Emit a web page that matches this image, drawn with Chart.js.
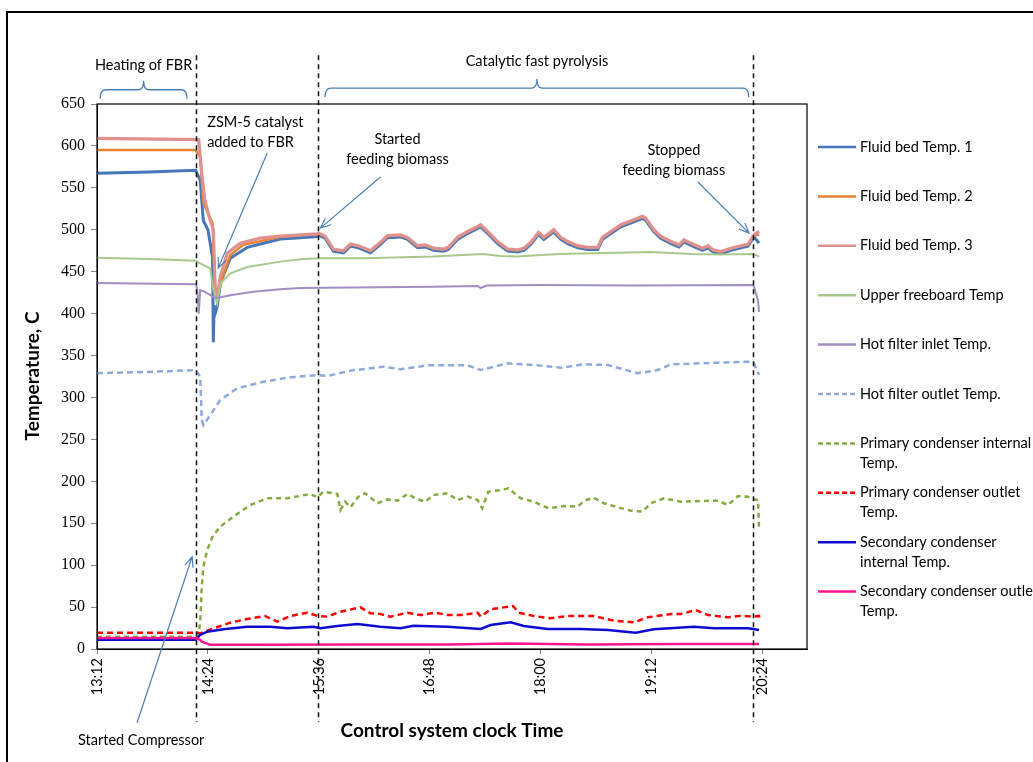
<!DOCTYPE html>
<html>
<head>
<meta charset="utf-8">
<title>Catalytic fast pyrolysis run - temperatures</title>
<script src="https://cdn.jsdelivr.net/npm/chart.js@4.4.1/dist/chart.umd.min.js"></script>
<style>
    html, body { margin: 0; padding: 0; background: #fff; }
    #wrap { width: 1033px; height: 762px; }
</style>
</head>
<body>
<div id="wrap"><canvas id="tempChart" width="1033" height="762"></canvas></div>
<script>
// x axis ticks (control system clock)
const xTickStart = '13:12';
const xTickStep = 72;          // minutes between tick labels
const xAxisEnd = '20:52:48';
const yTicks = [0, 650, 50];   // min, max, step

// series: [clock time, temperature C]
const fluidBed1 = [
    ['13:12', 567.5], ['13:46', 569], ['14:16', 571], ['14:19', 559], ['14:21', 511], ['14:24', 500],
    ['14:27', 467], ['14:27:30', 366], ['14:28', 410], ['14:28:40', 400], ['14:30', 408], ['14:32', 436],
    ['14:38:30', 466], ['14:49:30', 479], ['15:11', 489], ['15:24', 490.5], ['15:35', 492],
    ['15:35:40', 493.5], ['15:40', 490], ['15:45:24', 474.5], ['15:52', 472.5], ['15:56:30', 480.5],
    ['16:01:40', 478.5], ['16:09:30', 472.5], ['16:16', 482.5], ['16:20:30', 490.5], ['16:29', 491.5],
    ['16:33:30', 488.5], ['16:40', 478.5], ['16:45', 479.5], ['16:50:24', 475.5], ['16:57', 474.5],
    ['17:00', 476.5], ['17:06', 488.5], ['17:12:30', 495.5], ['17:19', 501.5], ['17:21', 503.5],
    ['17:25:30', 495.5], ['17:32', 483.5], ['17:38:30', 474.5], ['17:45', 473.5], ['17:49', 475.5],
    ['17:53:30', 482.5], ['17:58:40', 494.5], ['18:02', 488.5], ['18:08:24', 497.5], ['18:13', 488.5],
    ['18:17:30', 483.5], ['18:24', 478.5], ['18:30:30', 476.5], ['18:37', 476.5], ['18:40', 488.5],
    ['18:45:30', 495.5], ['18:52', 503.5], ['19:00:24', 509.5], ['19:06', 513.5], ['19:08', 511.5],
    ['19:13:24', 497.5], ['19:18', 489.5], ['19:24:30', 483.5], ['19:29:40', 479.5], ['19:33', 485.5],
    ['19:37:30', 481.5], ['19:45', 475.5], ['19:48:30', 478.5], ['19:52', 473.5], ['19:57', 471.5],
    ['20:03:30', 475.5], ['20:10', 478.5], ['20:14:30', 480.5], ['20:18:24', 491.5], ['20:21:40', 484]
];
const fluidBed2 = [
    ['13:12', 595], ['14:16', 595], ['14:19', 587], ['14:21', 532], ['14:24', 520], ['14:27', 508],
    ['14:28:40', 428], ['14:30:40', 424], ['14:33:20', 442], ['14:38:30', 470], ['14:47', 482],
    ['15:11', 491.5], ['15:24', 493.5], ['15:35', 494.5],
    ['15:35:40', 495.5], ['15:40', 492], ['15:45:24', 476.5], ['15:52', 474.5], ['15:56:30', 482.5],
    ['16:01:40', 480.5], ['16:09:30', 474.5], ['16:16', 484.5], ['16:20:30', 492.5], ['16:29', 493.5],
    ['16:33:30', 490.5], ['16:40', 480.5], ['16:45', 481.5], ['16:50:24', 477.5], ['16:57', 476.5],
    ['17:00', 478.5], ['17:06', 490.5], ['17:12:30', 497.5], ['17:19', 503.5], ['17:21', 505.5],
    ['17:25:30', 497.5], ['17:32', 485.5], ['17:38:30', 476.5], ['17:45', 475.5], ['17:49', 477.5],
    ['17:53:30', 484.5], ['17:58:40', 496.5], ['18:02', 490.5], ['18:08:24', 499.5], ['18:13', 490.5],
    ['18:17:30', 485.5], ['18:24', 480.5], ['18:30:30', 478.5], ['18:37', 478.5], ['18:40', 490.5],
    ['18:45:30', 497.5], ['18:52', 505.5], ['19:00:24', 511.5], ['19:06', 515.5], ['19:08', 513.5],
    ['19:13:24', 499.5], ['19:18', 491.5], ['19:24:30', 485.5], ['19:29:40', 481.5], ['19:33', 487.5],
    ['19:37:30', 483.5], ['19:45', 477.5], ['19:48:30', 480.5], ['19:52', 475.5], ['19:57', 473.5],
    ['20:03:30', 477.5], ['20:10', 480.5], ['20:14:30', 482.5], ['20:18:24', 493.5], ['20:21:40', 494]
];
const fluidBed3 = [
    ['13:12', 609], ['14:18', 607.5], ['14:20', 567], ['14:22', 535], ['14:25:30', 511], ['14:27:30', 500],
    ['14:28:40', 432], ['14:30', 420], ['14:32', 444], ['14:36:30', 472], ['14:45', 484], ['14:58', 490],
    ['15:11', 492.5], ['15:24', 494], ['15:35', 495],
    ['15:35:40', 496], ['15:40', 492.5], ['15:45:24', 477], ['15:52', 475], ['15:56:30', 483],
    ['16:01:40', 481], ['16:09:30', 475], ['16:16', 485], ['16:20:30', 493], ['16:29', 494],
    ['16:33:30', 491], ['16:40', 481], ['16:45', 482], ['16:50:24', 478], ['16:57', 477],
    ['17:00', 479], ['17:06', 491], ['17:12:30', 498], ['17:19', 504], ['17:21', 506],
    ['17:25:30', 498], ['17:32', 486], ['17:38:30', 477], ['17:45', 476], ['17:49', 478],
    ['17:53:30', 485], ['17:58:40', 497], ['18:02', 491], ['18:08:24', 500], ['18:13', 491],
    ['18:17:30', 486], ['18:24', 481], ['18:30:30', 479], ['18:37', 479], ['18:40', 491],
    ['18:45:30', 498], ['18:52', 506], ['19:00:24', 512], ['19:06', 516], ['19:08', 514],
    ['19:13:24', 500], ['19:18', 492], ['19:24:30', 486], ['19:29:40', 482], ['19:33', 488],
    ['19:37:30', 484], ['19:45', 478], ['19:48:30', 481], ['19:52', 476], ['19:57', 474],
    ['20:03:30', 478], ['20:10', 481], ['20:14:30', 483], ['20:18:24', 494], ['20:21:40', 498]
];
const upperFreeboard = [
    ['13:12', 466.5], ['13:46', 465], ['14:16', 463], ['14:19', 460], ['14:25:30', 454], ['14:27:30', 428],
    ['14:30', 412], ['14:32', 436], ['14:38:30', 448], ['14:49:30', 455.6], ['15:11', 462], ['15:24', 464.8],
    ['15:35:40', 466], ['16:05', 466], ['16:50', 468], ['17:22', 471], ['17:34', 468.7], ['17:45', 468],
    ['18:00', 470], ['18:13', 471], ['19:11:30', 473.5], ['19:37:30', 471], ['19:57', 470.6],
    ['20:18', 471], ['20:21:40', 468]
];
const hotFilterInlet = [
    ['13:12', 436.5], ['14:16', 435], ['14:17', 430], ['14:18', 400], ['14:19', 428], ['14:22', 426],
    ['14:27:30', 420], ['14:30', 418.6], ['14:38:30', 422], ['14:53:24', 426], ['15:11', 429],
    ['15:24', 430.5], ['16:50', 432], ['17:19', 433], ['17:21', 430.5], ['17:25', 433.5], ['18:00', 434],
    ['19:00', 433.5], ['20:18', 434], ['20:21', 416], ['20:21:40', 402]
];
const hotFilterOutlet = [
    ['13:12', 329], ['13:46', 330.5], ['14:16', 332.7], ['14:19', 324.8], ['14:20', 273], ['14:21', 267],
    ['14:25:30', 279], ['14:32', 297], ['14:43', 311], ['15:00', 318.8], ['15:17:30', 324], ['15:35', 326.8],
    ['15:41:30', 325.6], ['15:56:30', 332], ['16:09:30', 334.8], ['16:18', 336.7], ['16:29', 333.6],
    ['16:46:30', 338.3], ['17:12:30', 338.3], ['17:21', 332.7], ['17:38:30', 340.7], ['17:55:24', 338.7],
    ['18:13', 335.5], ['18:28', 339.5], ['18:43:30', 338.7], ['19:03', 328.8], ['19:16', 332.7],
    ['19:24:30', 339.5], ['19:55', 341.5], ['20:14:30', 342.7], ['20:18:24', 340.7], ['20:21:40', 326.8]
];
const primaryCondInternal = [
    ['13:12', 14.5], ['14:16', 14.5], ['14:18', 16.7], ['14:19', 34.6], ['14:20', 74], ['14:21', 98],
    ['14:23:30', 118], ['14:27', 134], ['14:32', 146], ['14:40:24', 157.8], ['14:51:30', 171.7],
    ['15:02:30', 179.7], ['15:15:30', 179.7], ['15:30:30', 184.9], ['15:35', 180.9], ['15:39', 187.6],
    ['15:48', 184.9], ['15:50', 165.8], ['15:53', 175.7], ['15:56:30', 169], ['16:01:40', 181.7],
    ['16:06', 185.7], ['16:14', 173.8], ['16:20:30', 178.5], ['16:27', 176.9], ['16:33:30', 184.9],
    ['16:40', 178.5], ['16:45', 175.7], ['16:50:24', 183.7], ['16:59:30', 185.7], ['17:06', 177.7],
    ['17:12:30', 181.7], ['17:19', 177.7], ['17:22', 167.8], ['17:26', 187.6], ['17:34', 189.6],
    ['17:39', 191.6], ['17:47', 179.7], ['17:55:24', 175.7], ['18:05', 167.8], ['18:15', 170.5],
    ['18:24', 169.7], ['18:28', 176.9], ['18:34:24', 180.5], ['18:41', 173.8], ['18:50', 169],
    ['18:58:30', 165], ['19:06', 163.8], ['19:11:30', 173.8], ['19:20', 179.7], ['19:31', 175.7],
    ['19:44', 176.5], ['19:55', 176.9], ['20:01:30', 171.7], ['20:08', 182.5], ['20:14:30', 181.7],
    ['20:18', 178.5], ['20:21', 177.7], ['20:21:40', 143.9]
];
const primaryCondOutlet = [
    ['13:12', 19.5], ['14:16', 19.5], ['14:19', 18.7], ['14:27:30', 24.6], ['14:38:30', 31.4],
    ['14:49:30', 35.8], ['15:01', 39.4], ['15:09', 32.6], ['15:17:30', 39.4], ['15:28:30', 43.3],
    ['15:35', 39.4], ['15:41:30', 38.6], ['15:50', 44.5], ['16:03', 49.7], ['16:09:30', 42.5],
    ['16:16', 41.7], ['16:22:30', 38.6], ['16:33:30', 43.3], ['16:42', 40.5], ['16:51:40', 43.3],
    ['16:59:30', 40.5], ['17:08', 40.5], ['17:19', 43.3], ['17:21', 38.6], ['17:27:30', 47.3],
    ['17:42', 51.3], ['17:45:40', 43.3], ['17:55:24', 39.4], ['18:06:30', 36.6], ['18:17:30', 39.4],
    ['18:34:24', 39.4], ['18:47:24', 33.8], ['19:00:24', 31.8], ['19:09:30', 37.8], ['19:24:30', 41.7],
    ['19:31', 41.7], ['19:40:40', 46.5], ['19:48:30', 40.5], ['20:01:30', 37.8], ['20:10', 39.7],
    ['20:18:24', 38.6], ['20:21:40', 39.4], ['20:22', 33.4]
];
const secondaryCondInternal = [
    ['13:12', 11], ['14:16', 11], ['14:19', 16.7], ['14:23:30', 20.7], ['14:34', 23.5], ['14:49:30', 26.6],
    ['15:04:30', 26.6], ['15:15:30', 24.7], ['15:32:24', 26.6], ['15:37', 24.7], ['15:48', 27.4],
    ['16:01', 29.8], ['16:16', 26.6], ['16:29', 24.7], ['16:37:24', 27.8], ['16:59:30', 26.6],
    ['17:21', 23.9], ['17:27:30', 28.6], ['17:40:30', 31.8], ['17:49', 27.4], ['18:04:30', 23.9],
    ['18:26', 23.9], ['18:43:30', 22.7], ['19:01:40', 19.4], ['19:13:24', 23.5], ['19:39:24', 26.6],
    ['19:52:24', 24.7], ['20:14:30', 24.7], ['20:21:40', 22.7]
];
const secondaryCondOutlet = [
    ['13:12', 13], ['14:16', 13], ['14:19', 11], ['14:20', 8.7], ['14:25:30', 5], ['15:00', 5],
    ['16:00', 5.5], ['17:00', 5.5], ['17:40', 6.5], ['18:30', 5.5], ['19:30', 6], ['20:21:40', 6]
];

const seriesLabels = [
    ['Fluid bed Temp. 1'], ['Fluid bed Temp. 2'], ['Fluid bed Temp. 3'], ['Upper freeboard Temp'],
    ['Hot filter inlet Temp.'], ['Hot filter outlet Temp.'], ['Primary condenser internal', 'Temp.'],
    ['Primary condenser outlet', 'Temp.'], ['Secondary condenser', 'internal Temp.'],
    ['Secondary condenser outlet', 'Temp.']
];
const seriesValues = [
    fluidBed1, fluidBed2, fluidBed3, upperFreeboard, hotFilterInlet, hotFilterOutlet,
    primaryCondInternal, primaryCondOutlet, secondaryCondInternal, secondaryCondOutlet
];

// 样式
const seriesColors = ['#4677b8', '#e8822f', '#de918e', '#a9c98c', '#a08fc0', '#8eaadb', '#84ab42', '#ff0000', '#0c0cd0', '#ff168f'];
const seriesDash = [[], [], [], [], [], [6, 4], [5, 4], [6, 4], [], []];
const seriesWidth = [3, 2.5, 3.2, 2, 2, 2.5, 2.5, 2.5, 2.5, 2.5];

// annotations, in clock time / temperature units
const eventLines = ['14:16:20', '15:35:40', '20:18'];
const phases = [
    { text: 'Heating of FBR', from: '13:14', to: '14:10:30', y: 667, textY: 696.5 },
    { text: 'Catalytic fast pyrolysis', from: '15:40', to: '20:15', y: 669, textY: 701 }
];
const callouts = [
    { lines: ['ZSM-5 catalyst', 'added to FBR'], at: ['14:23:30', 628.5], align: 'left', from: ['15:02:30', 591.5], to: ['14:30:40', 454.4] },
    { lines: ['Started', 'feeding biomass'], at: ['16:27', 608.2], align: 'center', from: ['16:16', 562.9], to: ['15:37', 502] },
    { lines: ['Stopped', 'feeding biomass'], at: ['19:26:24', 595], align: 'center', from: ['19:42', 557], to: ['20:15:12', 496] },
    { lines: ['Started Compressor'], at: ['12:59:40', -108.5], align: 'left', from: ['13:38', -88], to: ['14:13:45', 110] }
];

const toMin = (s) => {
    const p = s.split(':').map(Number);
    return p[0] * 60 + p[1] + (p[2] || 0) / 60;
};
const fmtClock = (v) => {
    const h = Math.floor(v / 60);
    const m = Math.round(v - h * 60);
    return h + ':' + String(m).padStart(2, '0');
};

const blue = '#4a7ebb';

// 注释、图例、坐标轴标题
const overlayPlugin = {
    id: 'overlay',
    afterDraw(chart) {
        const ctx = chart.ctx;
        const xs = chart.scales.x, ys = chart.scales.y;
        const px = (t) => xs.getPixelForValue(toMin(t));
        const py = (v) => ys.getPixelForValue(v);
        const area = chart.chartArea;

        ctx.save();
        // plot frame
        ctx.strokeStyle = '#000';
        ctx.lineWidth = 1.2;
        ctx.strokeRect(area.left, area.top, area.right - area.left, area.bottom - area.top);

        // outer frame
        ctx.lineWidth = 2;
        ctx.beginPath();
        ctx.moveTo(7, 770); ctx.lineTo(7, 12); ctx.lineTo(1040, 12);
        ctx.stroke();

        // event lines
        ctx.setLineDash([5, 4]);
        ctx.lineWidth = 1.5;
        ctx.strokeStyle = '#111';
        eventLines.forEach(t => {
            const x = Math.round(px(t)) + 0.5;
            ctx.beginPath();
            ctx.moveTo(x, py(708));
            ctx.lineTo(x, py(-87));
            ctx.stroke();
        });
        ctx.setLineDash([]);

        ctx.font = '14.5px Lato';
        ctx.fillStyle = '#000';
        ctx.textBaseline = 'middle';

        // phase braces
        phases.forEach(ph => {
            const x1 = px(ph.from), x2 = px(ph.to), y = py(ph.y), mid = (x1 + x2) / 2;
            ctx.strokeStyle = blue;
            ctx.lineWidth = 1.3;
            ctx.beginPath();
            ctx.moveTo(x1, y + 9);
            ctx.quadraticCurveTo(x1, y, x1 + 6, y);
            ctx.lineTo(mid - 5, y);
            ctx.quadraticCurveTo(mid, y, mid, y - 9);
            ctx.quadraticCurveTo(mid, y, mid + 5, y);
            ctx.lineTo(x2 - 6, y);
            ctx.quadraticCurveTo(x2, y, x2, y + 9);
            ctx.stroke();
            ctx.textAlign = 'center';
            ctx.fillText(ph.text, mid, py(ph.textY));
        });

        // callouts
        callouts.forEach(c => {
            ctx.textAlign = c.align;
            c.lines.forEach((line, i) => ctx.fillText(line, px(c.at[0]), py(c.at[1]) + i * 20));
            const x1 = px(c.from[0]), y1 = py(c.from[1]), x2 = px(c.to[0]), y2 = py(c.to[1]);
            ctx.strokeStyle = blue;
            ctx.lineWidth = 1.2;
            ctx.beginPath();
            ctx.moveTo(x1, y1);
            ctx.lineTo(x2, y2);
            const a = Math.atan2(y2 - y1, x2 - x1);
            ctx.moveTo(x2 - 11 * Math.cos(a - 0.4), y2 - 11 * Math.sin(a - 0.4));
            ctx.lineTo(x2, y2);
            ctx.lineTo(x2 - 11 * Math.cos(a + 0.4), y2 - 11 * Math.sin(a + 0.4));
            ctx.stroke();
        });

        // axis titles
        ctx.font = 'bold 19px Lato';
        ctx.textAlign = 'center';
        ctx.fillText('Control system clock Time', 452, 731);
        ctx.save();
        ctx.translate(33, 376);
        ctx.rotate(-Math.PI / 2);
        ctx.fillText('Temperature, C', 0, 0);
        ctx.restore();

        // legend
        ctx.font = '14.5px Lato';
        ctx.textAlign = 'left';
        let ly = 147;
        chart.data.datasets.forEach((ds, i) => {
            ctx.strokeStyle = ds.borderColor;
            ctx.lineWidth = 2.5;
            ctx.setLineDash(seriesDash[i].length ? [5, 3] : []);
            ctx.beginPath();
            ctx.moveTo(818, ly);
            ctx.lineTo(856, ly);
            ctx.stroke();
            ctx.setLineDash([]);
            seriesLabels[i].forEach((line, k) => ctx.fillText(line, 860, ly + k * 20));
            ly += 49.4;
        });
        ctx.restore();
    }
};

Chart.defaults.font.family = 'Lato';
Chart.defaults.font.size = 14;
Chart.defaults.color = '#000';

const datasets = seriesValues.map((vals, i) => ({
    label: seriesLabels[i].join(' '),
    data: vals.map(([t, v]) => ({ x: toMin(t), y: v })),
    borderColor: seriesColors[i],
    backgroundColor: seriesColors[i],
    borderWidth: seriesWidth[i],
    borderDash: seriesDash[i],
    pointRadius: 0,
    tension: 0,
    fill: false,
    order: seriesValues.length - i
}));

new Chart(document.getElementById('tempChart').getContext('2d'), {
    type: 'line',
    data: { datasets },
    options: {
        responsive: false,
        animation: false,
        devicePixelRatio: 1,
        layout: { padding: { left: 0, right: 226, top: 104, bottom: 0 } },
        plugins: { legend: { display: false }, tooltip: { enabled: false } },
        scales: {
            x: {
                type: 'linear',
                min: toMin(xTickStart),
                max: toMin(xAxisEnd),
                grid: { drawOnChartArea: false, drawTicks: true, tickLength: 5, color: '#868686' },
                border: { color: '#000' },
                ticks: {
                    stepSize: xTickStep,
                    includeBounds: false,
                    autoSkip: false,
                    minRotation: 90,
                    maxRotation: 90,
                    padding: 4,
                    font: { size: 14.5 },
                    callback: (v) => fmtClock(v)
                },
                afterFit: (s) => { s.height = 113; }
            },
            y: {
                min: yTicks[0],
                max: yTicks[1],
                grid: { drawOnChartArea: false, drawTicks: true, tickLength: 6, color: '#868686' },
                border: { color: '#000' },
                ticks: { stepSize: yTicks[2], padding: 6, font: { family: 'Liberation Serif', size: 16 } },
                afterFit: (s) => { s.width = 97; }
            }
        }
    },
    plugins: [overlayPlugin]
});
</script>
</body>
</html>
